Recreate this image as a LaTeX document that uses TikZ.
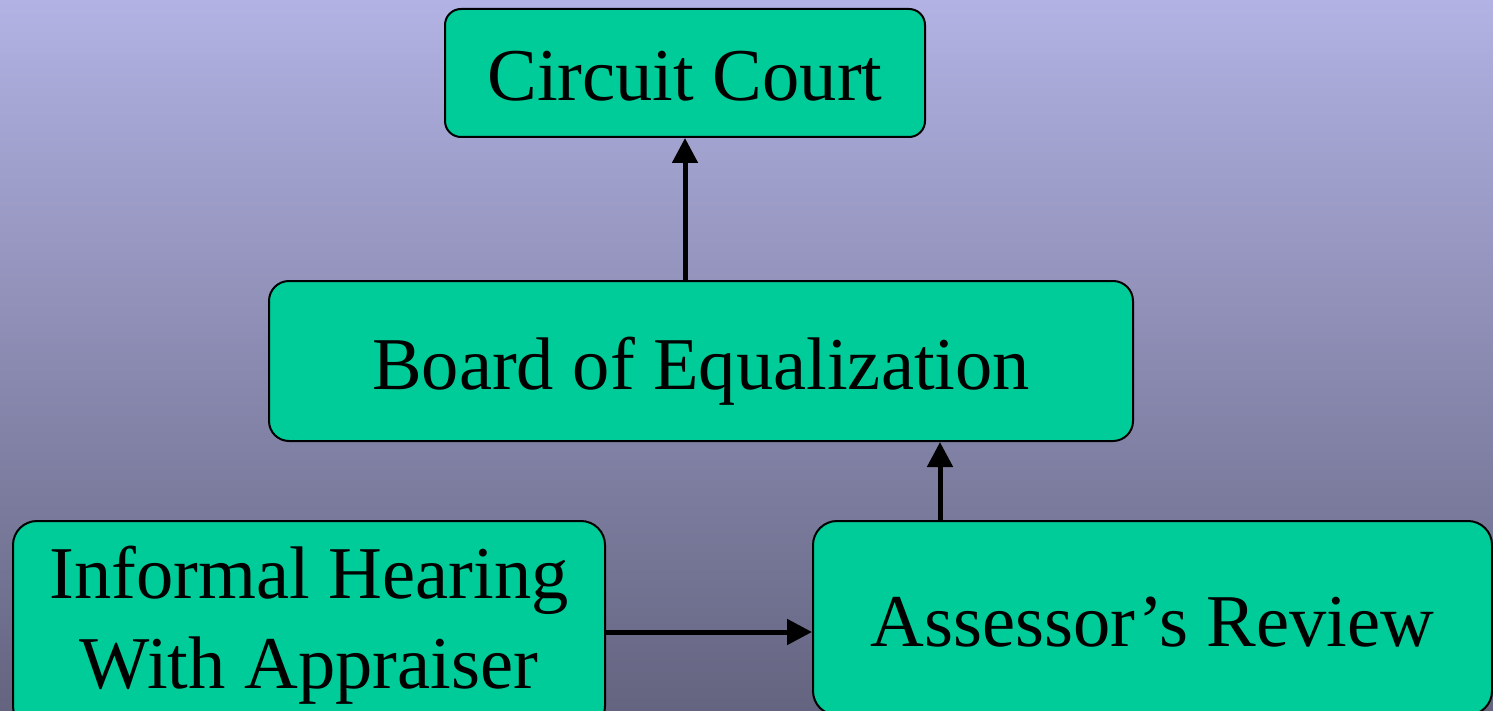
\documentclass[tikz,border=0pt]{standalone}
\usepackage{fontspec}
\setmainfont{Liberation Serif}
\usetikzlibrary{arrows.meta}
\definecolor{boxgreen}{RGB}{0,204,153}
\definecolor{bgtop}{RGB}{178,178,228}
\definecolor{bgbot}{RGB}{100,100,128}
\begin{document}
\begin{tikzpicture}[x=1pt,y=-1pt,
  box/.style={draw=black, line width=2pt, fill=boxgreen, rectangle, inner sep=0pt,
    font=\fontsize{74.5}{90}\selectfont, text=black},
  single/.style={text height=56pt, text depth=0pt},
  arr/.style={-{Triangle[length=25pt,width=25pt]}, line width=5pt, draw=black}]
\useasboundingbox (0,0) rectangle (1493,711);
\clip (0,0) rectangle (1493,711);
\shade[top color=bgtop, bottom color=bgbot] (0,0) rectangle (1493,711);
\node[box, single, rounded corners=16pt, minimum width=480pt, minimum height=128pt] (cc) at (685,73) {Circuit Court};
\node[box, single, rounded corners=20pt, minimum width=864pt, minimum height=160pt] (bd) at (701,361) {Board of Equalization};
\node[box, rounded corners=24pt, minimum width=592pt, minimum height=209pt, align=center] (ih) at (309,625.5) {Informal Hearing\\With Appraiser};
\node[box, single, rounded corners=24pt, minimum width=679pt, minimum height=194pt] (as) at (1152.5,618) {Assessor’s Review};
\coordinate (xa) at (940,0);
\coordinate (yh) at (0,632);
\draw[arr] (cc.south |- bd.north) -- (cc.south);
\draw[arr] (as.north -| xa) -- (bd.south -| xa);
\draw[arr] (ih.east |- yh) -- (as.west |- yh);
\end{tikzpicture}
\end{document}
